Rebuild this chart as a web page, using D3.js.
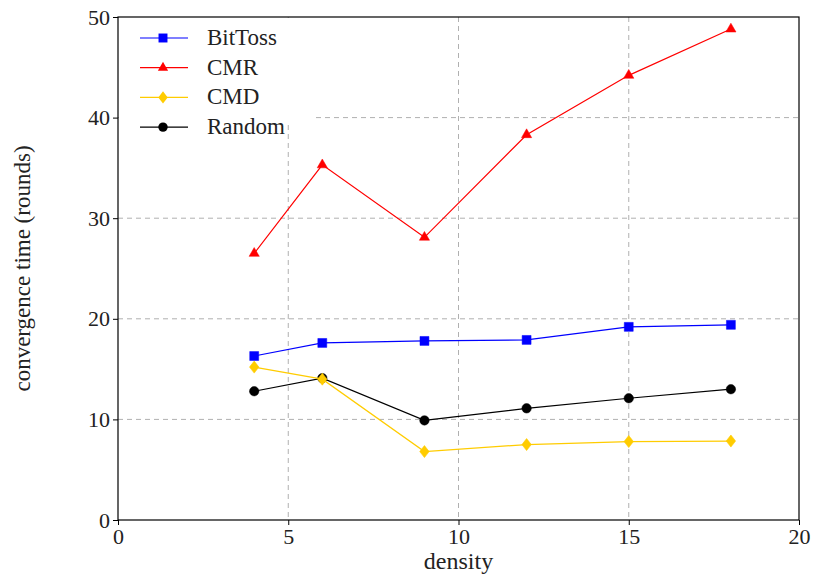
<!DOCTYPE html>
<html><head><meta charset="utf-8">
<script src="https://cdn.jsdelivr.net/npm/d3@7"></script>
<style>body{margin:0;background:#fff}svg{display:block}text{font-family:"Liberation Serif","DejaVu Serif",serif;fill:#222}</style>
</head><body><svg id="c" width="813" height="577"></svg>
<script>
const densities = [4, 6, 9, 12, 15, 18];
const bitToss = [16.3, 17.6, 17.8, 17.9, 19.2, 19.4];
const cmr = [26.5, 35.3, 28.1, 38.3, 44.2, 48.8];
const cmd = [15.2, 14.0, 6.8, 7.5, 7.8, 7.85];
const randomS = [12.8, 14.1, 9.9, 11.1, 12.1, 13.0];
const xTicks = [0, 5, 10, 15, 20];
const yTicks = [0, 10, 20, 30, 40, 50];
const series = [
  {name: "BitToss", values: bitToss, color: "#0000ff", shape: d3.symbolSquare, size: 80},
  {name: "CMR", values: cmr, color: "#ff0000", shape: d3.symbolTriangle, size: 45},
  {name: "CMD", values: cmd, color: "#ffcc00", shape: d3.symbolDiamond, size: 42, sx: 1.35},
  {name: "Random", values: randomS, color: "#000000", shape: d3.symbolCircle, size: 70}
];
const drawOrder = [0, 1, 3, 2];

const svg = d3.select("#c");
const L = 118, R = 799, T = 17, B = 520;
const x = d3.scaleLinear().domain([0, 20]).range([L, R]);
const y = d3.scaleLinear().domain([0, 50]).range([B, T]);

// grid
const g = svg.append("g");
g.selectAll(".gx").data(xTicks.slice(1, -1)).join("line")
  .attr("x1", d => x(d)).attr("x2", d => x(d)).attr("y1", T).attr("y2", B)
  .attr("stroke", "#b0b0b0").attr("stroke-dasharray", "5,4").attr("stroke-width", 1);
g.selectAll(".gy").data(yTicks.slice(1, -1)).join("line")
  .attr("y1", d => y(d)).attr("y2", d => y(d)).attr("x1", L).attr("x2", R)
  .attr("stroke", "#b0b0b0").attr("stroke-dasharray", "5,4").attr("stroke-width", 1);

// axes
const xa = svg.append("g").attr("transform", `translate(0,${B})`)
  .call(d3.axisBottom(x).tickValues(xTicks).tickSize(5).tickPadding(3));
const ya = svg.append("g").attr("transform", `translate(${L},0)`)
  .call(d3.axisLeft(y).tickValues(yTicks).tickSize(5).tickPadding(3));
[xa, ya].forEach(a => {
  a.select(".domain").remove();
  a.selectAll("line").attr("stroke", "#000");
  a.selectAll("text").style("font-family", '"Liberation Serif","DejaVu Serif",serif').style("font-size", "22px").attr("fill", "#222");
});
svg.append("rect").attr("x", L).attr("y", T).attr("width", R - L).attr("height", B - T)
  .attr("fill", "none").attr("stroke", "#000").attr("stroke-width", 1.2);

// lines
const line = d3.line().x((d, i) => x(densities[i])).y(d => y(d));
drawOrder.forEach(k => {
  const s = series[k];
  const gs = svg.append("g");
  gs.append("path").attr("d", line(s.values)).attr("fill", "none").attr("stroke", s.color).attr("stroke-width", 1.2);
  gs.selectAll("path.m").data(s.values).join("path").attr("class", "m")
    .attr("d", d3.symbol().type(s.shape).size(s.size))
    .attr("transform", (d, i) => `translate(${x(densities[i])},${y(d)}) scale(${s.sx || 1},1)`)
    .attr("fill", s.color).attr("stroke", s.color).attr("stroke-width", 0.5);
});

// legend
const lg = svg.append("g");
lg.append("rect").attr("x", L + 1).attr("y", T + 1).attr("width", 196).attr("height", 106).attr("fill", "#fff");
series.forEach((s, i) => {
  const yy = 38 + i * 29.7;
  lg.append("line").attr("x1", 140).attr("x2", 188).attr("y1", yy).attr("y2", yy).attr("stroke", s.color).attr("stroke-width", 1.2);
  lg.append("path").attr("d", d3.symbol().type(s.shape).size(s.size))
    .attr("transform", `translate(163,${yy}) scale(${s.sx || 1},1)`).attr("fill", s.color);
  lg.append("text").attr("x", 207).attr("y", yy + 7).style("font-size", "23px").text(s.name);
});

// axis labels
svg.append("text").attr("x", (L + R) / 2).attr("y", 569).attr("text-anchor", "middle").style("font-size", "24px").text("density");
svg.append("text").attr("transform", `translate(30,${(T + B) / 2}) rotate(-90)`).attr("text-anchor", "middle").style("font-size", "23px").text("convergence time (rounds)");
</script></body></html>
